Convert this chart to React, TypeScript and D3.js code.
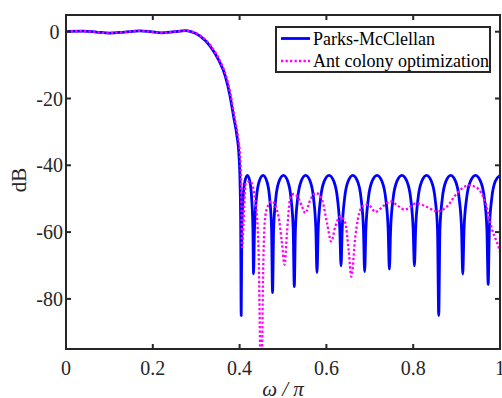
import React from "react";
import * as d3 from "d3";

const xTicks = [0, 0.2, 0.4, 0.6, 0.8, 1];
const yTicks = [0, -20, -40, -60, -80];
const seriesNames = ["Parks-McClellan", "Ant colony optimization"];

// Parks-McClellan response [omega/pi, dB]
const pmPoints: [number, number][] = [
  [0, 0.1], [0.04, 0.15], [0.07, -0.1], [0.1, -0.4], [0.135, -0.1], [0.17, 0.25],
  [0.195, 0.0], [0.22, -0.35], [0.25, 0.0], [0.275, 0.3], [0.288, 0.0], [0.309, -1.3],
  [0.332, -4.3], [0.351, -8.3], [0.367, -13.3], [0.378, -19.3], [0.386, -25.3],
  [0.394, -31.3], [0.398, -36], [0.401, -45], [0.4025, -58], [0.4037, -85],
  [0.4051, -59.1], [0.408, -49.9], [0.4122, -44.8], [0.4179, -43], [0.4236, -44.8], [0.4278, -49.9], [0.4307, -59.1], [0.4321, -72.5],
  [0.4343, -59.1], [0.4387, -49.9], [0.4452, -44.8], [0.454, -43], [0.4628, -44.8], [0.4693, -49.9], [0.4737, -59.1], [0.4759, -78.1],
  [0.4784, -59.1], [0.4834, -49.9], [0.4909, -44.8], [0.501, -43], [0.511, -44.8], [0.5185, -49.9], [0.5235, -59.1], [0.526, -76.3],
  [0.5286, -59.1], [0.5338, -49.9], [0.5417, -44.8], [0.5522, -43], [0.5626, -44.8], [0.5704, -49.9], [0.5757, -59.1], [0.5783, -72.1],
  [0.5811, -59.1], [0.5866, -49.9], [0.5949, -44.8], [0.606, -43], [0.6171, -44.8], [0.6254, -49.9], [0.6309, -59.1], [0.6337, -70.1],
  [0.6364, -59.1], [0.6419, -49.9], [0.65, -44.8], [0.6609, -43], [0.6718, -44.8], [0.6799, -49.9], [0.6854, -59.1], [0.6881, -71.8],
  [0.691, -59.1], [0.6967, -49.9], [0.7052, -44.8], [0.7166, -43], [0.728, -44.8], [0.7366, -49.9], [0.7423, -59.1], [0.7451, -71.1],
  [0.748, -59.1], [0.7538, -49.9], [0.7624, -44.8], [0.774, -43], [0.7855, -44.8], [0.7942, -49.9], [0.7999, -59.1], [0.8028, -70.1],
  [0.8056, -59.1], [0.8112, -49.9], [0.8196, -44.8], [0.8308, -43], [0.842, -44.8], [0.8504, -49.9], [0.856, -59.1], [0.8588, -85.0],
  [0.8616, -59.1], [0.8671, -49.9], [0.8754, -44.8], [0.8865, -43], [0.8976, -44.8], [0.9059, -49.9], [0.9114, -59.1], [0.9142, -72.6],
  [0.9171, -59.1], [0.923, -49.9], [0.9318, -44.8], [0.9435, -43], [0.9552, -44.8], [0.964, -49.9], [0.9698, -59.1], [0.9728, -75.7],
  [0.9755, -59.1], [0.981, -49.9], [0.9891, -44.8], [1.0, -43.0],
];

// Ant colony optimization response [omega/pi, dB]
const acoPoints: [number, number][] = [
  [0, 0.1], [0.04, 0.15], [0.07, -0.1], [0.1, -0.4], [0.135, -0.1], [0.17, 0.25],
  [0.195, 0.0], [0.22, -0.35], [0.25, 0.0], [0.275, 0.3], [0.29, 0.0], [0.311, -1.3],
  [0.334, -4.3], [0.353, -8.3], [0.369, -13.3], [0.38, -19.3], [0.388, -25.3],
  [0.396, -31.3], [0.4015, -38], [0.4045, -52], [0.4053, -64.5], [0.4145, -45.3],
  [0.4245, -44.8], [0.436, -50.3], [0.4436, -65], [0.4498, -110], [0.4545, -70],
  [0.4591, -55.3], [0.4667, -51.8], [0.4745, -50.8], [0.4897, -55.3], [0.4976, -63.3],
  [0.5036, -69.8], [0.5091, -60.3], [0.5167, -49.8], [0.5243, -48.6], [0.534, -49.5],
  [0.5437, -52.3], [0.5513, -54.3], [0.5629, -50.3], [0.576, -48.3], [0.5898, -50.3],
  [0.6014, -57.3], [0.6113, -62.8], [0.6205, -58.3], [0.6321, -55.3], [0.6436, -57.3],
  [0.6512, -65.3], [0.6574, -73.3], [0.6667, -61.3], [0.6782, -53.3], [0.6897, -51.8],
  [0.7013, -52.3], [0.7128, -54.0], [0.732, -52.1], [0.7474, -50.8], [0.7666, -52.3],
  [0.7797, -53.3], [0.8074, -51.4], [0.8321, -52.5], [0.8558, -53.8], [0.8782, -52.3],
  [0.9013, -48.3], [0.928, -46.0], [0.9474, -46.8], [0.9666, -51.3], [0.982, -59.3],
  [0.9975, -64.8], [1.0, -66],
];

const W = 502;
const H = 398;
const L = 66, R = 500, T = 15, B = 349;
const AX = "#262626";
const FONT = "'Liberation Serif', 'Times New Roman', serif";

export default function App() {
  const x = d3.scaleLinear().domain([0, 1]).range([L, R]);
  const y = d3.scaleLinear().domain([-95, 5]).range([B, T]);
  const line = d3
    .line<[number, number]>()
    .x((d) => x(d[0]))
    .y((d) => y(d[1]))
    .curve(d3.curveMonotoneX);

  const tl = 5;
  return (
    <svg
      width={W}
      height={H}
      style={{ position: "absolute", left: 0, top: 0, background: "#fff" }}
      fontFamily={FONT}
    >
      <defs>
        <clipPath id="plotClip">
          <rect x={L} y={T} width={R - L} height={B - T} />
        </clipPath>
      </defs>
      <rect x={0} y={0} width={W} height={H} fill="#fff" />
      <g clipPath="url(#plotClip)">
        <path d={line(pmPoints) || ""} fill="none" stroke="#0000ff" strokeWidth={2.8} strokeLinejoin="round" />
        <path
          d={line(acoPoints) || ""}
          fill="none"
          stroke="#ff00ff"
          strokeWidth={2.3}
          strokeDasharray="2.3 2.2"
        />
      </g>
      {/* axes box */}
      <rect x={L} y={T} width={R - L} height={B - T} fill="none" stroke={AX} strokeWidth={2} />
      {xTicks.map((t) => (
        <g key={"x" + t}>
          <line x1={x(t)} x2={x(t)} y1={B} y2={B - tl} stroke={AX} strokeWidth={2} />
          <line x1={x(t)} x2={x(t)} y1={T} y2={T + tl} stroke={AX} strokeWidth={2} />
          <text x={x(t)} y={375} textAnchor="middle" fontSize={20} fill={AX}>
            {String(t)}
          </text>
        </g>
      ))}
      {yTicks.map((t) => (
        <g key={"y" + t}>
          <line x1={L} x2={L + tl} y1={y(t)} y2={y(t)} stroke={AX} strokeWidth={2} />
          <line x1={R} x2={R - tl} y1={y(t)} y2={y(t)} stroke={AX} strokeWidth={2} />
          <text x={t === 0 ? 59.5 : 63} y={y(t)} dy="0.35em" textAnchor="end" fontSize={20} fill={AX}>
            {String(t)}
          </text>
        </g>
      ))}
      <text x={(L + R) / 2} y={396} textAnchor="middle" fontSize={21} fontStyle="italic" fill={AX}>
        ω / π
      </text>
      <text transform={`translate(26,${(T + B) / 2 - 2}) rotate(-90)`} textAnchor="middle" fontSize={21} fill={AX}>
        dB
      </text>
      {/* legend */}
      <rect x={276} y={27} width={214} height={45} fill="#fff" stroke={AX} strokeWidth={2} />
      <line x1={281} x2={310} y1={38.5} y2={38.5} stroke="#0000ff" strokeWidth={2.8} />
      <line x1={281} x2={310} y1={61} y2={61} stroke="#ff00ff" strokeWidth={2.3} strokeDasharray="2.3 2.2" />
      <text x={313} y={45} fontSize={18} fill="#000">
        {seriesNames[0]}
      </text>
      <text x={313} y={67} fontSize={18} fill="#000">
        {seriesNames[1]}
      </text>
    </svg>
  );
}
